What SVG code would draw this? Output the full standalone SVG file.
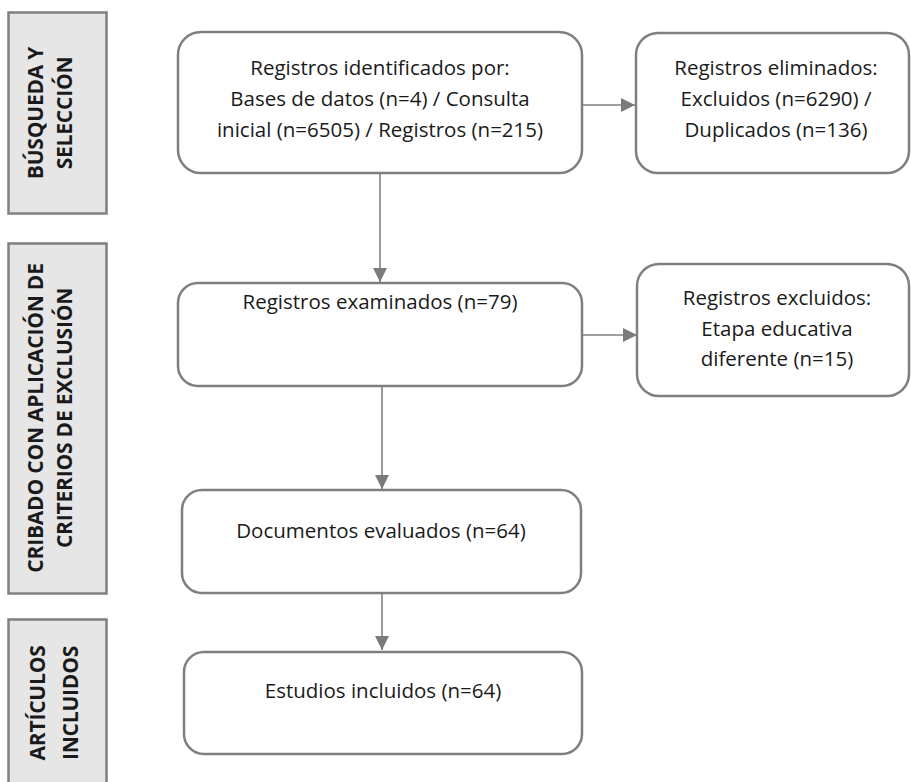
<svg xmlns="http://www.w3.org/2000/svg" width="911" height="782" viewBox="0 0 911 782">
<style>
.side{fill:#e6e6e6;stroke:#808080;stroke-width:2.5}
.box{fill:#ffffff;stroke:#7f7f7f;stroke-width:2.5}
.lbl{font-family:"Open Sans","Liberation Sans",sans-serif;font-weight:bold;font-size:21px;letter-spacing:-0.2px;fill:#1a1a1a;text-anchor:middle}
.t{font-family:"Open Sans","Liberation Sans",sans-serif;font-size:20.5px;fill:#1a1a1a;text-anchor:middle}
.con{stroke:#808080;stroke-width:1.6;fill:none}
</style>
<defs>
<marker id="arr" viewBox="0 0 10 10" refX="10" refY="5" markerWidth="15" markerHeight="14" markerUnits="userSpaceOnUse" orient="auto">
<path d="M0,0 L10,5 L0,10 Z" fill="#7a7a7a"/>
</marker>
</defs>
<rect width="911" height="782" fill="#ffffff"/>

<g id="phase-busqueda">
<rect class="side" x="8.5" y="12.5" width="98" height="201"/>
<text class="lbl" transform="translate(43,113) rotate(-90)">BÚSQUEDA Y</text>
<text class="lbl" transform="translate(72,113) rotate(-90)">SELECCIÓN</text>
</g>
<g id="phase-cribado">
<rect class="side" x="8.5" y="243.5" width="98" height="350"/>
<text class="lbl" transform="translate(43,418) rotate(-90)">CRIBADO CON APLICACIÓN DE</text>
<text class="lbl" transform="translate(72,418) rotate(-90)">CRITERIOS DE EXCLUSIÓN</text>
</g>
<g id="phase-incluidos">
<rect class="side" x="8.5" y="619.5" width="98" height="180"/>
<text class="lbl" transform="translate(45,703) rotate(-90)">ARTÍCULOS</text>
<text class="lbl" transform="translate(78,703) rotate(-90)">INCLUIDOS</text>
</g>

<g id="connectors">
<line class="con" x1="380" y1="174" x2="380" y2="282" marker-end="url(#arr)"/>
<line class="con" x1="583" y1="105" x2="635" y2="105" marker-end="url(#arr)"/>
<line class="con" x1="382" y1="386" x2="382" y2="489" marker-end="url(#arr)"/>
<line class="con" x1="583" y1="335" x2="637" y2="335" marker-end="url(#arr)"/>
<line class="con" x1="382" y1="593" x2="382" y2="650" marker-end="url(#arr)"/>
</g>

<g id="node-identificados">
<rect class="box" x="178" y="32" width="404" height="141" rx="23"/>
<text class="t" x="380" y="75">Registros identificados por:</text>
<text class="t" x="380" y="106">Bases de datos (n=4) / Consulta</text>
<text class="t" x="380" y="137">inicial (n=6505) / Registros (n=215)</text>
</g>
<g id="node-eliminados">
<rect class="box" x="636" y="33" width="273" height="140" rx="22"/>
<text class="t" x="776" y="75">Registros eliminados:</text>
<text class="t" x="776" y="106">Excluidos (n=6290) /</text>
<text class="t" x="776" y="137">Duplicados (n=136)</text>
</g>
<g id="node-examinados">
<rect class="box" x="178" y="283" width="404" height="103" rx="20"/>
<text class="t" x="380" y="309">Registros examinados (n=79)</text>
</g>
<g id="node-excluidos">
<rect class="box" x="637" y="264" width="272" height="132" rx="22"/>
<text class="t" x="777" y="305">Registros excluidos:</text>
<text class="t" x="777" y="336">Etapa educativa</text>
<text class="t" x="777" y="366">diferente (n=15)</text>
</g>
<g id="node-evaluados">
<rect class="box" x="182" y="490" width="399" height="103" rx="20"/>
<text class="t" x="381" y="538">Documentos evaluados (n=64)</text>
</g>
<g id="node-incluidos">
<rect class="box" x="184" y="652" width="398" height="102" rx="20"/>
<text class="t" x="383" y="698">Estudios incluidos (n=64)</text>
</g>
</svg>
